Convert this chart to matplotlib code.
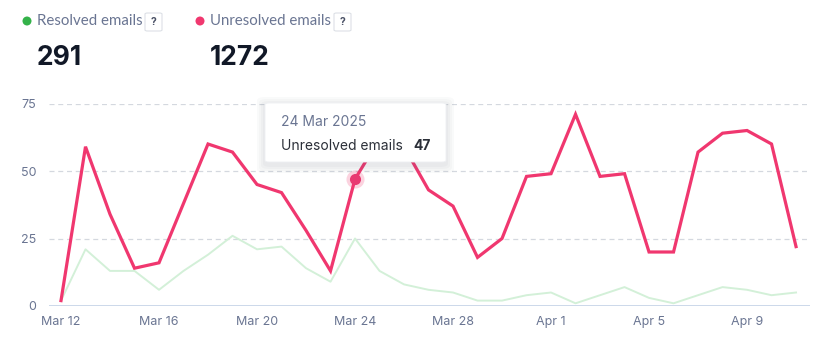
import matplotlib.pyplot as plt
from matplotlib.patches import FancyBboxPatch, Ellipse

plt.rcParams['font.family'] = ['Inter', 'DejaVu Sans']

# data: Mar 12 - Apr 11, 2025
days = list(range(31))
resolved = [2, 21, 13, 13, 6, 13, 19, 26, 21, 22, 14, 9, 25, 13, 8, 6,
            5, 2, 2, 4, 5, 1, 4, 7, 3, 1, 4, 7, 6, 4, 5]
unresolved = [2, 59, 34, 14, 16, 38, 60, 57, 45, 42, 28, 13, 47, 62, 59, 43,
              37, 18, 25, 48, 49, 71, 48, 49, 20, 20, 57, 64, 65, 60, 22]
tick_pos = [0, 4, 8, 12, 16, 20, 24, 28]
tick_labels = ['Mar 12', 'Mar 16', 'Mar 20', 'Mar 24', 'Mar 28', 'Apr 1', 'Apr 5', 'Apr 9']
total_resolved = '291'
total_unresolved = '1272'
hover_idx = 12

PINK = '#f0376f'
GREEN_LINE = '#d3f0d8'
GREEN_DOT = '#34b24a'
MUTED = '#6a7592'
DARK = '#111827'

W, H = 840, 359
fig = plt.figure(figsize=(W / 100, H / 100), dpi=100)


def fx(px):
    return px / W


def fy(py):
    return 1 - py / H


ax = fig.add_axes([fx(49), fy(306), fx(810) - fx(49), fy(103.5) - fy(306)])
ax.set_xlim(-0.49, 30.57)
ax.set_ylim(0, 75)

for v in [25, 50, 75]:
    ax.axhline(v, color='#d4d8df', lw=0.9, ls=(0, (4, 3)), zorder=0)
ax.axhline(0, color='#c3d2e6', lw=1.2, zorder=1)

ax.plot(days, resolved, color=GREEN_LINE, lw=1.4, zorder=2)
ax.plot(days, unresolved, color=PINK, lw=2.3, zorder=3, solid_joinstyle='miter')

# hovered point
ax.plot(days[hover_idx], unresolved[hover_idx], 'o', ms=13, color=PINK, alpha=0.22, zorder=4,
        markeredgewidth=0)
ax.plot(days[hover_idx], unresolved[hover_idx], 'o', ms=8, color='#e83a72', zorder=5,
        markeredgewidth=0)

for s in ax.spines.values():
    s.set_visible(False)
ax.set_yticks([0, 25, 50, 75])
ax.set_xticks(tick_pos)
ax.set_xticklabels(tick_labels)
ax.tick_params(length=0, colors=MUTED, labelsize=9)
ax.tick_params(axis='y', pad=9)
ax.tick_params(axis='x', pad=7)

# tooltip with soft shadow
for i, a in enumerate([0.03, 0.03, 0.035, 0.04]):
    grow = 8 - i * 2
    sh = FancyBboxPatch((fx(265 - grow), fy(163 + grow + 2)), fx(181 + 2 * grow), fy(0) - fy(60 + 2 * grow),
                        boxstyle='round,pad=0,rounding_size=0.01', transform=fig.transFigure,
                        facecolor='#5a6175', edgecolor='none', alpha=a, zorder=10)
    fig.add_artist(sh)
box = FancyBboxPatch((fx(265), fy(162)), fx(181), fy(0) - fy(59),
                     boxstyle='round,pad=0,rounding_size=0.005', transform=fig.transFigure,
                     facecolor='white', edgecolor='#eef0f3', lw=0.6, zorder=11)
fig.add_artist(box)
fig.text(fx(281), fy(122), '24 Mar 2025', color=MUTED, fontsize=10, va='center', zorder=12)
fig.text(fx(281), fy(146), 'Unresolved emails', color='#2b2f38', fontsize=10, va='center', zorder=12)
fig.text(fx(431), fy(146), str(unresolved[hover_idx]), color='#2b2f38', fontsize=10,
         fontweight='bold', va='center', ha='right', zorder=12)


# header legend
def header(x_dot, color, label, x_q, value):
    fig.add_artist(Ellipse((fx(x_dot), fy(21)), 9 / W, 9 / H, transform=fig.transFigure,
                           facecolor=color, edgecolor='none'))
    fig.text(fx(x_dot + 10), fy(21), label, color=MUTED, fontsize=10.8, va='center',
             family=['Lato', 'DejaVu Sans'])
    q = FancyBboxPatch((fx(x_q), fy(31)), fx(17), fy(0) - fy(18),
                       boxstyle='round,pad=0,rounding_size=0.003', transform=fig.transFigure,
                       facecolor='white', edgecolor='#dde0e6', lw=0.8)
    fig.add_artist(q)
    fig.text(fx(x_q + 8.5), fy(22), '?', color='#4a5166', fontsize=7.5, fontweight='bold',
             ha='center', va='center')
    fig.text(fx(x_dot + 10), fy(58), value, color=DARK, fontsize=19, fontweight='bold', va='center')


header(27, GREEN_DOT, 'Resolved emails', 145, total_resolved)
header(200, '#f0386f', 'Unresolved emails', 334, total_unresolved)

fig.savefig('out.png', dpi=100)
